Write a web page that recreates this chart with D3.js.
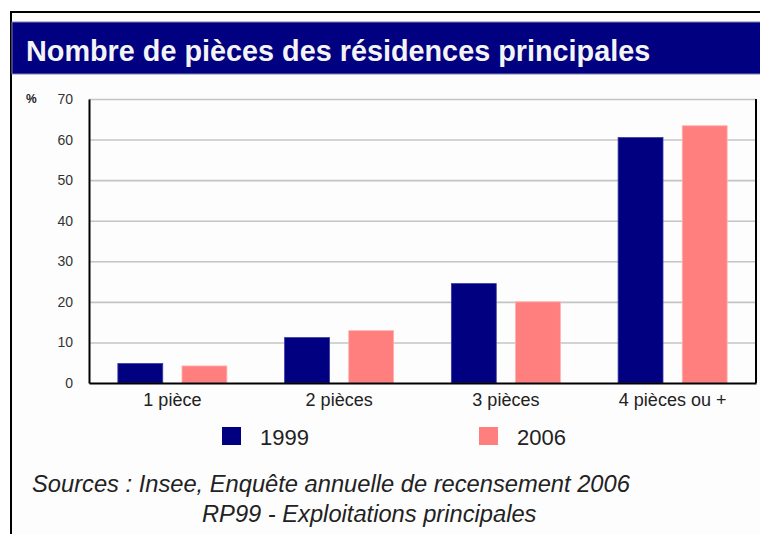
<!DOCTYPE html>
<html>
<head>
<meta charset="utf-8">
<script src="https://cdn.jsdelivr.net/npm/d3@7"></script>
<style>
  body { margin: 0; background: #fff; }
  svg { display: block; font-family: "Liberation Sans", Arial, sans-serif; }
</style>
</head>
<body>
<div id="container"></div>
<script>
// Chart data
const categories = ["1 pièce", "2 pièces", "3 pièces", "4 pièces ou +"];
const seriesNames = ["1999", "2006"];
const values1999 = [4.8, 11.2, 24.5, 60.5];
const values2006 = [4.2, 12.9, 20.0, 63.4];
const yTicks = [0, 10, 20, 30, 40, 50, 60, 70];
const seriesColors = ["#000080", "#ff7f7f"];
const seriesStrokes = ["#3a3aa0", "#ffb0b0"];

function BuildGraph(){

  // Chart constants
  let chartWidth = 760;
  let chartHeight = 534;
  let plotLeft = 89, plotRight = 756, plotTop = 99, plotBottom = 383;

  let svg = d3.select('#container')
    .append('svg')
    .attr('width', chartWidth)
    .attr('height', chartHeight);

  // Outer frame (runs off the right and bottom edges)
  svg.append('rect')
    .attr('x', 11).attr('y', 12)
    .attr('width', 800).attr('height', 600)
    .attr('fill', '#fdfdfd')
    .attr('stroke', '#000')
    .attr('stroke-width', 2);

  // Title band
  svg.append('rect')
    .attr('x', 12).attr('y', 22)
    .attr('width', 760).attr('height', 52)
    .attr('fill', '#000080')
    .attr('stroke', '#7f7fb8')
    .attr('stroke-width', 1);

  svg.append('text')
    .attr('x', 26).attr('y', 61)
    .attr('fill', '#f4f4f4')
    .style('font-size', '28.8px')
    .style('font-weight', 'bold')
    .text('Nombre de pièces des résidences principales');

  // Scales
  let x0 = d3.scaleBand()
    .domain(categories)
    .range([plotLeft, plotRight])
    .padding(0);

  let x1 = d3.scaleBand()
    .domain(seriesNames)
    .range([0, x0.bandwidth()])
    .paddingInner(0.3)
    .paddingOuter(0.45);

  let yScale = d3.scaleLinear()
    .domain([0, 70])
    .range([plotBottom, plotTop]);

  // Gridlines
  let grid = svg.append('g')
    .attr('transform', 'translate(' + plotLeft + ',0)')
    .call(d3.axisLeft(yScale).tickValues(yTicks.slice(1)).tickSize(-(plotRight - plotLeft)).tickFormat(''));
  grid.select('.domain').remove();
  grid.selectAll('line')
    .attr('stroke', '#c4c4c4')
    .attr('stroke-width', 1.6);

  // Bars
  let rows = categories.map((c, i) => ({cat: c, vals: [values1999[i], values2006[i]]}));
  svg.append('g')
    .selectAll('g')
    .data(rows)
    .enter()
    .append('g')
    .attr('transform', (d) => 'translate(' + x0(d.cat) + ',0)')
    .selectAll('rect')
    .data((d) => d.vals.map((v, j) => ({name: seriesNames[j], value: v, j: j})))
    .enter()
    .append('rect')
    .attr('x', (d) => x1(d.name))
    .attr('width', x1.bandwidth())
    .attr('y', (d) => yScale(d.value))
    .attr('height', (d) => plotBottom - yScale(d.value))
    .attr('fill', (d) => seriesColors[d.j])
    .attr('stroke', (d) => seriesStrokes[d.j])
    .attr('stroke-width', 0.8);

  // Y axis
  let yAxis = svg.append('g')
    .attr('transform', 'translate(' + plotLeft + ',0)')
    .call(d3.axisLeft(yScale).tickValues(yTicks).tickSize(0).tickPadding(16));
  yAxis.select('.domain')
    .attr('stroke', '#000')
    .attr('stroke-width', 2);
  yAxis.selectAll('text')
    .attr('fill', '#333')
    .style('font-size', '14px');

  // Right border of the plot
  svg.append('line')
    .attr('x1', plotRight).attr('x2', plotRight)
    .attr('y1', yScale(70)).attr('y2', yScale(0))
    .attr('stroke', '#000')
    .attr('stroke-width', 2);

  // X axis
  let xAxis = svg.append('g')
    .attr('transform', 'translate(0,' + plotBottom + ')')
    .call(d3.axisBottom(x0).tickSize(0).tickPadding(10));
  xAxis.select('.domain')
    .attr('stroke', '#000')
    .attr('stroke-width', 2);
  xAxis.selectAll('text')
    .attr('fill', '#222')
    .style('font-size', '18px');

  // Unit label
  svg.append('text')
    .attr('x', 26).attr('y', 103)
    .attr('fill', '#222')
    .style('font-size', '12px')
    .style('font-weight', 'bold')
    .text('%');

  // Legend
  let legendX = [222, 479];
  let legend = svg.append('g')
    .selectAll('g')
    .data(seriesNames)
    .enter()
    .append('g')
    .attr('transform', (d, i) => 'translate(' + legendX[i] + ',427)');
  legend.append('rect')
    .attr('width', 19).attr('height', 18)
    .attr('fill', (d, i) => seriesColors[i]);
  legend.append('text')
    .attr('x', 38).attr('y', 18)
    .attr('fill', '#222')
    .style('font-size', '22px')
    .text((d) => d);

  // Sources
  svg.append('text')
    .attr('x', 32).attr('y', 492)
    .attr('fill', '#222')
    .style('font-size', '23.7px')
    .style('font-style', 'italic')
    .text('Sources : Insee, Enquête annuelle de recensement 2006');
  svg.append('text')
    .attr('x', 202).attr('y', 522)
    .attr('fill', '#222')
    .style('font-size', '23.7px')
    .style('font-style', 'italic')
    .text('RP99 - Exploitations principales');
}

BuildGraph();
</script>
</body>
</html>
